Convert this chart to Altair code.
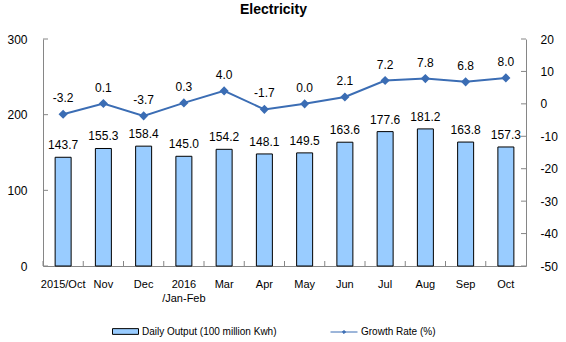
import altair as alt
import pandas as pd

categories = ["2015/Oct", "Nov", "Dec", "2016\n/Jan-Feb", "Mar", "Apr", "May",
              "Jun", "Jul", "Aug", "Sep", "Oct"]
daily_output = [143.7, 155.3, 158.4, 145.0, 154.2, 148.1, 149.5, 163.6, 177.6, 181.2, 163.8, 157.3]
growth_rate = [-3.2, 0.1, -3.7, 0.3, 4.0, -1.7, 0.0, 2.1, 7.2, 7.8, 6.8, 8.0]
left_ticks = [0, 100, 200, 300]
right_ticks = [20, 10, 0, -10, -20, -30, -40, -50]

BAR_NAME = "Daily Output (100 million Kwh)"
LINE_NAME = "Growth Rate (%)"
FONT = "Liberation Sans"
AXIS_GRAY = "#868686"
LINE_COLOR = "#3B6DB4"
BAR_COLOR = "#99CCFF"
W, H = 483, 227
MINUS_FIX = "replace(datum.label, '\u2212', '-')"

df = pd.DataFrame({"cat": categories, "output": daily_output, "growth": growth_rate,
                   "s_bar": BAR_NAME, "s_line": LINE_NAME})
lt = pd.DataFrame({"v": left_ticks})
rt = pd.DataFrame({"v": right_ticks})
xt = pd.DataFrame({"cat": categories})

x_axis = alt.Axis(labelExpr="split(datum.label, '\\n')", labelAngle=0,
                  ticks=False, labelPadding=12, labelFontSize=11,
                  labelFont=FONT, labelColor="black",
                  domainColor=AXIS_GRAY, labelLineHeight=14)
x_scale = alt.Scale(paddingInner=0, paddingOuter=0)


def xenc(**kw):
    return alt.X("cat:N", sort=categories, title=None, scale=x_scale, axis=x_axis, **kw)


left_axis = alt.Axis(values=left_ticks, ticks=False, labelPadding=16,
                     labelFontSize=12, labelFont=FONT, labelColor="black",
                     labelOverlap=False, domainColor=AXIS_GRAY, grid=False)
right_axis = alt.Axis(orient="right", values=right_ticks, ticks=False, labelPadding=14,
                      labelFontSize=12, labelFont=FONT, labelColor="black",
                      labelOverlap=False, labelExpr=MINUS_FIX,
                      domainColor=AXIS_GRAY, grid=False)
yl_scale = alt.Scale(domain=[0, 300], nice=False)
yr_scale = alt.Scale(domain=[-50, 20], nice=False)


def yl(field):
    return alt.Y(field, scale=yl_scale, title=None, axis=left_axis)


def yr(field):
    return alt.Y(field, scale=yr_scale, title=None, axis=right_axis)


bars = alt.Chart(df).mark_bar(size=16, stroke="black", strokeWidth=1).encode(
    x=xenc(),
    y=yl("output:Q"),
    fill=alt.Fill("s_bar:N", title=None,
                  scale=alt.Scale(domain=[BAR_NAME], range=[BAR_COLOR]),
                  legend=alt.Legend(orient="none", legendX=69, legendY=279,
                                    symbolType="M-1,-0.22H1V0.22H-1Z", symbolSize=676,
                                    symbolStrokeColor="black", symbolStrokeWidth=1,
                                    labelFont=FONT, labelFontSize=10, labelOffset=3)),
)
bar_labels = alt.Chart(df).mark_text(dy=-12, fontSize=12, font=FONT, color="black").encode(
    x=xenc(),
    y=yl("output:Q"),
    text=alt.Text("output:Q", format=".1f"),
)
left_tick_rules = alt.Chart(lt).mark_rule(color=AXIS_GRAY).encode(
    x=alt.value(0), x2=alt.value(5), y=yl("v:Q"))
x_tick_rules = alt.Chart(xt).mark_rule(color=AXIS_GRAY).encode(
    x=xenc(bandPosition=0), y=alt.value(H - 5), y2=alt.value(H))

left = alt.layer(bars, bar_labels, left_tick_rules, x_tick_rules)

line = alt.Chart(df).mark_line(color=LINE_COLOR, strokeWidth=2,
                               point=alt.OverlayMarkDef(shape="diamond", filled=True,
                                                        size=40, color=LINE_COLOR)).encode(
    x=xenc(),
    y=yr("growth:Q"),
    stroke=alt.Stroke("s_line:N", title=None,
                      scale=alt.Scale(domain=[LINE_NAME], range=[LINE_COLOR]),
                      legend=alt.Legend(orient="none", legendX=287, legendY=279,
                                        symbolType="M-1,0H1M0,-0.12L0.12,0L0,0.12L-0.12,0Z",
                                        symbolSize=729, symbolFillColor=LINE_COLOR,
                                        symbolStrokeWidth=1,
                                        labelFont=FONT, labelFontSize=10, labelOffset=3)),
)
line_labels = alt.Chart(df).transform_calculate(
    lbl="replace(format(datum.growth, '.1f'), '\u2212', '-')"
).mark_text(dy=-16, fontSize=12, font=FONT, color="black").encode(
    x=xenc(),
    y=yr("growth:Q"),
    text=alt.Text("lbl:N"),
)
right_tick_rules = alt.Chart(rt).mark_rule(color=AXIS_GRAY).encode(
    x=alt.value(W - 5), x2=alt.value(W), y=yr("v:Q"))

right = alt.layer(line, line_labels, right_tick_rules)

chart = alt.layer(left, right).resolve_scale(y="independent", fill="independent",
                                             stroke="independent").properties(
    width=W, height=H,
    autosize="none",
    padding={"left": 43, "top": 39, "right": 40, "bottom": 76},
    title=alt.TitleParams("Electricity", font=FONT, fontSize=14, fontWeight="bold",
                          anchor="middle", offset=16, dx=-11, color="black"),
).configure_view(stroke=None)

chart.save("out.html", embed_options={"renderer": "svg", "actions": False})
